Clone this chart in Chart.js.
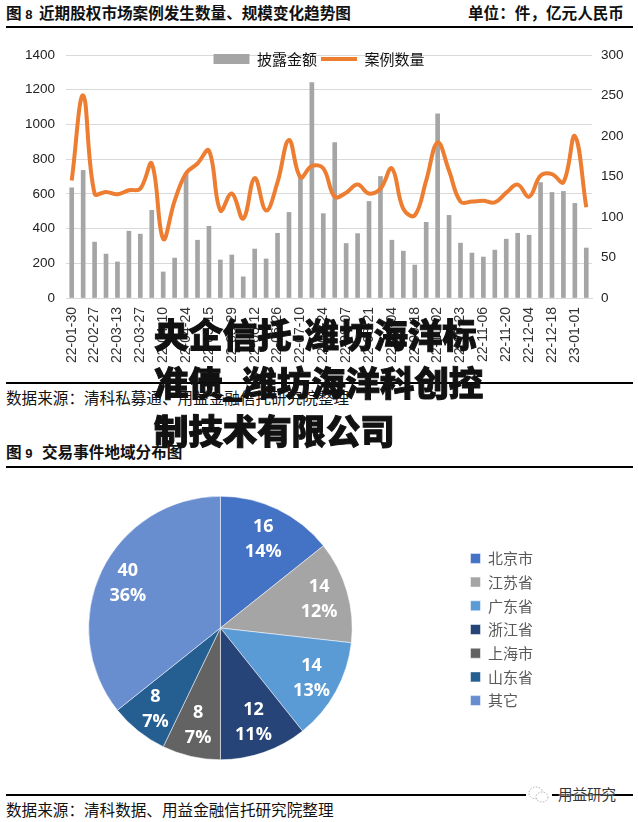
<!DOCTYPE html>
<html lang="zh">
<head>
<meta charset="utf-8">
<script src="https://cdn.jsdelivr.net/npm/chart.js@4/dist/chart.umd.min.js"></script>
<style>
html,body{margin:0;padding:0;background:#fff;}
#page{position:relative;width:638px;height:822px;overflow:hidden;background:#fff;font-family:"Noto Sans CJK SC",sans-serif;}
canvas{position:absolute;}
.t{position:absolute;white-space:nowrap;line-height:20px;font-size:15.6px;color:#111;}
.b{font-weight:700;}
.rule{position:absolute;left:6px;width:627px;height:2px;background:#000;}
#stamp{position:absolute;left:154px;top:309px;font-size:34.4px;line-height:48px;font-weight:900;color:#111;white-space:nowrap;-webkit-text-stroke:1px #111;z-index:5;}
#mark{position:absolute;left:558px;top:784px;font-size:14.5px;line-height:20px;color:#333;white-space:nowrap;text-shadow:0 0 2px #fff,0 0 2px #fff;z-index:4;}
#logo{position:absolute;left:526px;top:784px;z-index:3;}
</style>
</head>
<body>
<div id="page">
  <div class="t b" style="left:6px;top:2px;">图 <span style="font-family:'Liberation Sans';font-size:13px;">8</span></div>
  <div class="t b" style="left:39px;top:2px;">近期股权市场案例发生数量、规模变化趋势图</div>
  <div class="t b" style="left:468px;top:2px;">单位：件，亿元人民币</div>
  <div class="rule" style="top:26px;"></div>
  <canvas id="combo" width="638" height="354" style="left:0;top:26px;"></canvas>
  <div class="rule" style="top:382px;"></div>
  <div class="t" style="left:6px;top:387px;">数据来源：清科私募通、用益金融信托研究院整理</div>
  <div class="t b" style="left:6px;top:441px;">图 <span style="font-family:'Liberation Sans';font-size:13px;">9</span></div>
  <div class="t b" style="left:42px;top:441px;">交易事件地域分布图</div>
  <div class="rule" style="top:466px;"></div>
  <canvas id="pie" width="638" height="300" style="left:0;top:480px;"></canvas>
  <div class="rule" style="top:794px;"></div>
  <div class="t" style="left:6px;top:799px;">数据来源：清科数据、用益金融信托研究院整理</div>
  <svg id="logo" width="26" height="22" viewBox="0 0 26 22">
    <rect x="0" y="3" width="26" height="16" fill="#fff"/>
    <ellipse cx="10" cy="9" rx="7" ry="6" fill="#fff" stroke="#999" stroke-width="0.8" stroke-dasharray="1.5 1.5"/>
    <ellipse cx="16" cy="13" rx="6" ry="5" fill="#fff" stroke="#999" stroke-width="0.8" stroke-dasharray="1.5 1.5"/>
  </svg>
  <div id="mark">用益研究</div>
  <div id="stamp">央企信托-潍坊海洋标<br>准债_潍坊海洋科创控<br>制技术有限公司</div>
</div>
<script>
const dates = ["22-01-30","22-02-13","22-02-27","22-03-06","22-03-13","22-03-20","22-03-27","22-04-03","22-04-10","22-04-17","22-04-24","22-05-08","22-05-15","22-05-22","22-05-29","22-06-05","22-06-12","22-06-19","22-06-26","22-07-03","22-07-10","22-07-17","22-07-24","22-07-31","22-08-07","22-08-14","22-08-21","22-08-28","22-09-04","22-09-11","22-09-18","22-09-25","22-10-02","22-10-16","22-10-23","22-10-30","22-11-06","22-11-13","22-11-20","22-11-27","22-12-04","22-12-11","22-12-18","22-12-25","23-01-01","23-01-08"];
const amounts = [635,735,322,253,208,385,368,505,150,230,717,333,413,219,248,122,282,225,373,493,696,1241,486,896,314,371,556,700,333,270,190,436,1061,476,316,259,236,276,339,373,362,665,608,614,545,288];
const counts = [145,250,129,131,128,133,135,166,73,120,154,166,182,108,129,98,148,108,143,195,149,163,160,125,130,140,129,135,160,110,102,145,192,157,119,119,120,118,130,140,125,151,153,143,200,112];
const seriesNames = ["披露金额","案例数量"];
const regions = ["北京市","江苏省","广东省","浙江省","上海市","山东省","其它"];
const regionCounts = [16,14,14,12,8,8,40];
const regionPct = ["14%","12%","13%","11%","7%","7%","36%"];
const regionColors = ["#4472C4","#A5A5A5","#5B9BD5","#264478","#636363","#255E91","#698ED0"];

const tickFont = {family:"'Liberation Sans'",size:13.5};
const legendShift = {
  id:'legendShift',
  afterLayout(chart,args,o){
    const l=chart.legend; if(!l) return;
    l.left+=o.dx; l.right+=o.dx; l.top+=o.dy; l.bottom+=o.dy;
  }
};

new Chart(document.getElementById('combo'),{
  data:{labels:dates,datasets:[
    {type:'bar',label:seriesNames[0],data:amounts,yAxisID:'y',backgroundColor:'#A5A5A5',borderColor:'#A5A5A5',borderWidth:0,barThickness:4,order:2,pointStyle:'rect'},
    {type:'line',label:seriesNames[1],data:counts,yAxisID:'y1',borderColor:'#ED7D31',backgroundColor:'#ED7D31',borderWidth:4,tension:0.4,pointRadius:0,order:1,pointStyle:'line'}
  ]},
  options:{
    responsive:false,animation:false,
    layout:{padding:{top:0,left:0,right:0,bottom:0}},
    plugins:{
      tooltip:{enabled:false},
      legendShift:{dx:0,dy:21.5},
      legend:{position:'top',align:'center',labels:{usePointStyle:true,pointStyleWidth:36,boxHeight:10,padding:4,color:'#111',font:{family:"'Noto Sans CJK SC'",size:15},sort:(a,b)=>a.datasetIndex-b.datasetIndex}}
    },
    scales:{
      x:{
        afterFit(s){s.height=82;},
        grid:{display:false,drawTicks:false},
        border:{color:'#D9D9D9'},
        ticks:{autoSkip:false,maxRotation:90,minRotation:90,padding:9,color:'#333',font:{family:"'Liberation Sans'",size:14},
          callback(v,i){return i%2===0?this.getLabelForValue(v):'';}}
      },
      y:{
        position:'left',min:0,max:1400,afterFit(s){s.width=66;},
        grid:{color:'#D9D9D9',drawTicks:false},border:{display:false},
        ticks:{stepSize:200,padding:11,color:'#222',font:tickFont,callback(v){return String(v);}}
      },
      y1:{
        position:'right',min:0,max:300,afterFit(s){s.width=46;},
        grid:{display:false,drawTicks:false},border:{display:false},
        ticks:{stepSize:50,padding:9,color:'#222',font:tickFont,callback(v){return String(v);}}
      }
    }
  },
  plugins:[legendShift]
});

const labelRadius = [0.75,0.78,0.79,0.76,0.76,0.79,0.78];
const pieLabels = {
  id:'pieLabels',
  afterDatasetsDraw(chart){
    const ctx=chart.ctx, arcs=chart.getDatasetMeta(0).data;
    ctx.save();
    ctx.fillStyle='#fff';
    ctx.font="bold 18px 'Open Sans'";
    ctx.textAlign='center';ctx.textBaseline='middle';
    arcs.forEach((a,i)=>{
      const p=a.getProps(['x','y','startAngle','endAngle','outerRadius']);
      const m=(p.startAngle+p.endAngle)/2, r=p.outerRadius*labelRadius[i];
      const x=p.x+Math.cos(m)*r, y=p.y+Math.sin(m)*r;
      ctx.fillText(String(regionCounts[i]),x,y-12.5);
      ctx.fillText(regionPct[i],x,y+12.5);
    });
    ctx.restore();
  }
};

new Chart(document.getElementById('pie'),{
  type:'pie',
  data:{labels:regions,datasets:[{data:regionCounts,backgroundColor:regionColors,borderColor:'#fff',borderWidth:0.5}]},
  options:{
    responsive:false,animation:false,
    layout:{padding:{top:16,bottom:20,left:0,right:116}},
    plugins:{
      tooltip:{enabled:false},
      legendShift:{dx:21,dy:1.5},
      legend:{position:'right',align:'center',labels:{boxWidth:10,boxHeight:10,padding:8.7,color:'#595959',font:{family:"'Noto Sans CJK SC'",size:15}}}
    }
  },
  plugins:[pieLabels,legendShift]
});
</script>
</body>
</html>
